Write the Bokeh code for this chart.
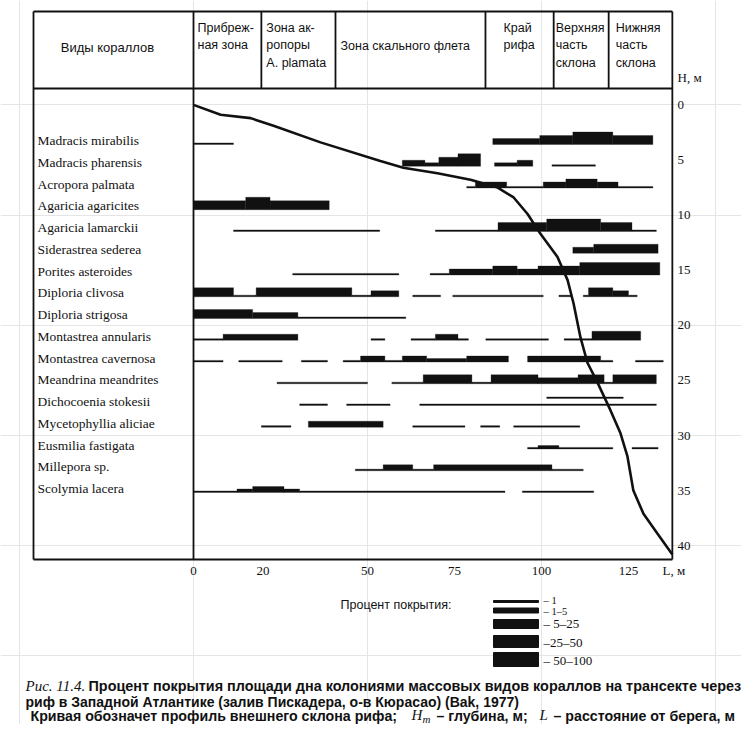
from bokeh.plotting import figure
from bokeh.models import Range1d, ColumnDataSource
from bokeh.core.properties import value
from bokeh.embed import file_html
from bokeh.resources import INLINE

# ---------------- data ----------------
species = ["Madracis mirabilis", "Madracis pharensis", "Acropora palmata",
           "Agaricia agaricites", "Agaricia lamarckii", "Siderastrea sederea",
           "Porites asteroides", "Diploria clivosa", "Diploria strigosa",
           "Montastrea annularis", "Montastrea cavernosa", "Meandrina meandrites",
           "Dichocoenia stokesii", "Mycetophyllia aliciae", "Eusmilia fastigata",
           "Millepora sp.", "Scolymia lacera"]

# segments: (start L, end L, cover class 1..5)
madracis_mirabilis = [(0, 11.5, 1), (86, 99.5, 3), (99.5, 109, 4), (109, 120.5, 5), (120.5, 132, 4)]
madracis_pharensis = [(60, 66.5, 3), (66.5, 70.5, 2), (70.5, 76, 4), (76, 82.5, 5),
                      (86.5, 93, 2), (93, 97.5, 3), (103, 115.5, 1)]
acropora_palmata = [(78.5, 81, 1), (81, 90, 3), (90, 100.5, 1), (100.5, 107, 3),
                    (107, 116, 4), (116, 122, 3), (122, 132, 1)]
agaricia_agaricites = [(0, 15, 4), (15, 22, 5), (22, 39, 4)]
agaricia_lamarckii = [(11.5, 53.5, 1), (69.5, 87.5, 1), (87.5, 101.5, 4), (101.5, 117, 5),
                      (117, 126, 4), (126, 133, 1)]
siderastrea_sederea = [(109, 115, 3), (115, 133.5, 4)]
porites_asteroides = [(28.5, 59, 1), (68, 73.5, 1), (73.5, 86, 3), (86, 93, 4), (93, 99, 3),
                      (99, 111, 4), (111, 134, 5)]
diploria_clivosa = [(0, 11.5, 4), (11.5, 18, 1), (18, 45.5, 4), (45.5, 51, 1), (51, 59, 3),
                    (63, 71, 1), (74.5, 100.5, 1), (105, 108.5, 1), (112, 113.5, 1),
                    (113.5, 120.5, 4), (120.5, 125, 3), (125, 127.5, 1)]
diploria_strigosa = [(0, 17, 4), (17, 30, 3), (30, 61, 1)]
montastrea_annularis = [(0, 8.5, 1), (8.5, 30, 3), (51, 55, 1), (62.5, 69.5, 1), (69.5, 76, 3),
                        (76, 79, 1), (84, 102, 1), (106.5, 114.5, 1), (114.5, 128.5, 4)]
montastrea_cavernosa = [(0, 8.5, 1), (13, 25.5, 1), (31, 38.5, 1), (43, 48, 1), (48, 55, 3),
                        (55, 60, 1), (60, 67, 3), (67, 78.5, 2), (78.5, 90.5, 3), (96, 117, 3),
                        (117, 120.5, 1), (127, 135, 1)]
meandrina_meandrites = [(24, 50, 1), (57, 66, 1), (66, 80, 4), (80, 85.5, 1), (85.5, 99, 4),
                        (99, 110.5, 3), (110.5, 118, 4), (118, 120.5, 1), (120.5, 133, 4)]
dichocoenia_stokesii = [(30.5, 38.5, 1), (44, 56.5, 1), (65, 133, 1)]
dichocoenia_upper = [(101.5, 123.5, 1)]
mycetophyllia_aliciae = [(19.5, 28, 1), (33, 54.5, 3), (63, 78, 1), (82.5, 88, 1), (92, 111, 1)]
eusmilia_fastigata = [(96, 99, 1), (99, 105, 2), (105, 120.5, 1), (126, 133.5, 1)]
millepora_sp = [(46.5, 54.5, 1), (54.5, 63, 3), (63, 69, 1), (69, 103, 3), (103, 112, 1)]
scolymia_lacera = [(0, 12.5, 1), (12.5, 17, 2), (17, 26, 3), (26, 30.5, 2), (30.5, 89.5, 1),
                   (94.5, 115, 1)]

segments_by_species = [madracis_mirabilis, madracis_pharensis, acropora_palmata,
                       agaricia_agaricites, agaricia_lamarckii, siderastrea_sederea,
                       porites_asteroides, diploria_clivosa, diploria_strigosa,
                       montastrea_annularis, montastrea_cavernosa, meandrina_meandrites,
                       dichocoenia_stokesii, mycetophyllia_aliciae, eusmilia_fastigata,
                       millepora_sp, scolymia_lacera]

# reef profile: distance from shore L (m) vs depth H (m)
profile_L = [0, 7.8, 16.4, 23.0, 36.5, 53.7, 60.3, 70.1, 79.6, 87.4, 92.0, 96.0, 99.7, 104.6,
             107.5, 109.2, 111.2, 113.2, 116.1, 119.8, 122.7, 124.7, 126.4, 129.3, 133.3, 137.6]
profile_H = [0, 0.9, 1.2, 1.9, 3.4, 5.1, 5.7, 6.2, 6.8, 7.5, 8.4, 9.9, 11.7, 13.8,
             15.9, 18.0, 21.1, 23.4, 25.2, 27.7, 29.8, 31.9, 35.0, 37.1, 38.9, 40.8]

zone_edges = [0, 19.5, 40.8, 83.9, 103.5, 119.3, 137.6]
zone_lines = [["Прибреж-", "ная зона"],
              ["Зона ак-", "ропоры", "A. plamata"],
              ["Зона скального флета"],
              ["Край", "рифа"],
              ["Верхняя", "часть", "склона"],
              ["Нижняя", "часть", "склона"]]

depth_ticks = [0, 5, 10, 15, 20, 25, 30, 35, 40]
dist_ticks = [0, 20, 50, 75, 100, 125]
cover_labels = ["– 1", "– 1–5", "– 5–25", "–25–50", "– 50–100"]

# ---------------- layout / style ----------------
PX_PER_M = 3.48
PX_PER_H = 11.02
ROW_PX = 21.75
W, HGT = 741, 724
class_thick = [1.6, 3.5, 6.0, 9.0, 12.5]
legend_thick = [2, 5, 9, 12, 14]
INK = "#111111"


def Lx(px):
    return (px - 193.0) / PX_PER_M


def Hy(py):
    return (py - 104.4) / PX_PER_H


def Ry(py):
    return (py - 144.0) / ROW_PX


p = figure(width=W, height=HGT,
           x_range=Range1d(Lx(0), Lx(W)), y_range=Range1d(Hy(HGT), Hy(0)),
           x_axis_location=None, y_axis_location=None, toolbar_location=None,
           output_backend="svg", min_border=0)
p.extra_y_ranges = {"rows": Range1d(Ry(HGT), Ry(0))}
p.outline_line_color = None
p.background_fill_color = "white"
p.border_fill_color = "white"


def txt(xs, ys, texts, font, size, style="normal", align="left", rng="default"):
    src = ColumnDataSource(dict(x=xs, y=ys, text=texts))
    p.text("x", "y", "text", source=src, text_font=value(font), text_font_size=size,
           text_font_style=style, text_align=align, text_baseline="middle",
           text_color=INK, y_range_name=rng)


# table frame
xl, xr = Lx(33), zone_edges[-1]
yt, yh, yb = Hy(11), Hy(88), Hy(559)
x0 = [xl, xl, xl, xl, 0, xr] + zone_edges[1:-1]
x1 = [xr, xr, xr, xl, 0, xr] + zone_edges[1:-1]
y0 = [yt, yh, yb, yt, yt, yt] + [yt] * 5
y1 = [yt, yh, yb, yb, yb, yb] + [yh] * 5
p.segment(x0, y0, x1, y1, line_color=INK, line_width=1.8)

# coverage bars
lefts, rights, bottoms, tops = [], [], [], []
for i, segs in enumerate(segments_by_species):
    for a, b, c in segs:
        lefts.append(a); rights.append(b); bottoms.append(i)
        tops.append(i - class_thick[c - 1] / ROW_PX)
di = species.index("Dichocoenia stokesii") - 7.0 / ROW_PX
for a, b, c in dichocoenia_upper:
    lefts.append(a); rights.append(b); bottoms.append(di)
    tops.append(di - class_thick[c - 1] / ROW_PX)
p.quad(left=lefts, right=rights, bottom=bottoms, top=tops, y_range_name="rows",
       fill_color=INK, line_color=INK, line_width=0.3)

# profile
p.line(profile_L, profile_H, line_color=INK, line_width=2.6)

# species names
txt([Lx(37)] * len(species), [i - 4.0 / ROW_PX for i in range(len(species))], species,
    "Liberation Serif", "13.5px", rng="rows")

# header
txt([Lx(107)], [Hy(47)], ["Виды кораллов"], "Liberation Sans", "13px", align="center")
hx, hy, ht = [], [], []
offs = [4, 5, 5, 18, 2, 7]
for k, lines in enumerate(zone_lines):
    start = 45 if len(lines) == 1 else 27
    for j, s in enumerate(lines):
        hx.append(zone_edges[k] + offs[k] / PX_PER_M)
        hy.append(Hy(start + 17.5 * j))
        ht.append(s)
txt(hx, hy, ht, "Liberation Sans", "12.5px")

# depth axis labels (right)
txt([Lx(677)] * (len(depth_ticks) + 1), [Hy(77)] + depth_ticks,
    ["Н, м"] + [str(t) for t in depth_ticks], "Liberation Serif", "13px")
# distance axis labels (bottom)
txt(dist_ticks, [Hy(570)] * len(dist_ticks), [str(t) for t in dist_ticks],
    "Liberation Serif", "13px", align="center")
txt([Lx(662)], [Hy(570)], ["L, м"], "Liberation Serif", "13px")

# legend
txt([Lx(340)], [Hy(604)], ["Процент покрытия:"], "Liberation Sans", "12.5px")
leg_py = [601, 610, 623.5, 641, 659]
p.rect(x=[Lx(515.5)] * 5, y=[Hy(v) for v in leg_py], width=45 / PX_PER_M,
       height=legend_thick, height_units="screen", fill_color=INK, line_color=INK)
lab_py = [600, 611, 623, 642, 660]
txt([Lx(543)] * 2, [Hy(v) for v in lab_py[:2]], cover_labels[:2], "Liberation Serif", "10.5px")
txt([Lx(543)] * 3, [Hy(v) for v in lab_py[2:]], cover_labels[2:], "Liberation Serif", "13px")

# caption
txt([Lx(25)], [Hy(685)], ["Рис. 11.4."], "Liberation Serif", "15px", style="italic")
txt([Lx(88)], [Hy(685)],
    ["Процент покрытия площади дна колониями массовых видов кораллов на трансекте через"],
    "Liberation Sans", "14.4px", style="bold")
txt([Lx(25)], [Hy(701)],
    ["риф в Западной Атлантике  (залив Пискадера, о-в Кюрасао)  (Bak, 1977)"],
    "Liberation Sans", "14px", style="bold")
txt([Lx(30), Lx(436), Lx(553)], [Hy(715)] * 3,
    ["Кривая  обозначет профиль внешнего склона рифа;", "– глубина, м;",
     "– расстояние от берега, м"], "Liberation Sans", "14.2px", style="bold")
txt([Lx(411), Lx(539)], [Hy(714)] * 2, ["H", "L"], "Liberation Serif", "15px", style="italic")
txt([Lx(422)], [Hy(718)], ["m"], "Liberation Serif", "11px", style="italic")

open("out.html", "w").write(file_html(p, INLINE))
